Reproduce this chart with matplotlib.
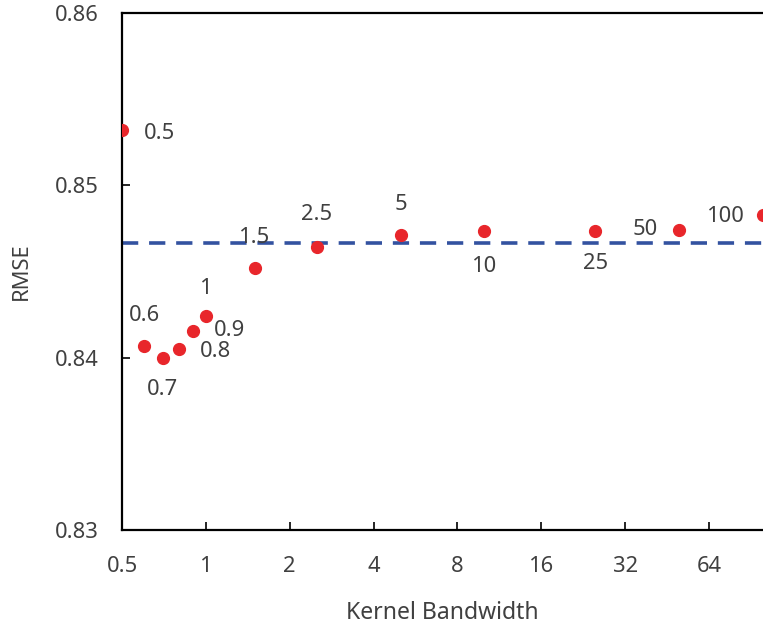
"""RMSE against kernel bandwidth."""

import matplotlib.pyplot as plt
from matplotlib.ticker import FixedLocator, NullLocator

bandwidths = [0.5, 0.6, 0.7, 0.8, 0.9, 1, 1.5, 2.5, 5, 10, 25, 50, 100]
rmse = [0.8532, 0.8407, 0.8400, 0.8405, 0.84155, 0.84242, 0.84519,
        0.84645, 0.84713, 0.84733, 0.84738, 0.84742, 0.84826]
point_labels = ["0.5", "0.6", "0.7", "0.8", "0.9", "1", "1.5",
                "2.5", "5", "10", "25", "50", "100"]
baseline = 0.84665
xticks = [0.5, 1, 2, 4, 8, 16, 32, 64]
yticks = [0.83, 0.84, 0.85, 0.86]

# label placement: (dx, dy) in points, horizontal alignment
label_pos = {
    "0.5": (16, -2, "left"),
    "0.6": (0, 22, "center"),
    "0.7": (0, -23, "center"),
    "0.8": (15, -2, "left"),
    "0.9": (15, 0, "left"),
    "1": (0, 20, "center"),
    "1.5": (0, 22, "center"),
    "2.5": (0, 23, "center"),
    "5": (0, 22, "center"),
    "10": (0, -25, "center"),
    "25": (0, -24, "center"),
    "50": (-15, 0, "right"),
    "100": (-13, -1, "right"),
}

text_color = "#404040"
fsize = 15.8
plt.rcParams["font.family"] = ["Noto Sans", "DejaVu Sans"]

fig = plt.figure(figsize=(7.63, 6.30), dpi=100)
ax = fig.add_axes([0.1599, 0.1587, 0.8401, 0.8206])

ax.set_xscale("log", base=2)
ax.set_xlim(0.5, 100)
ax.set_ylim(0.83, 0.86)

ax.axhline(baseline, color="#3352a0", linewidth=2.6, linestyle=(0, (4.5, 3)), zorder=1)
ax.plot(bandwidths, rmse, linestyle="none", marker="o", markersize=8.5,
        color="#e8262b", zorder=3)

for x, y, lab in zip(bandwidths, rmse, point_labels):
    dx, dy, ha = label_pos[lab]
    ax.annotate(lab, (x, y), xytext=(dx, dy), textcoords="offset points",
                ha=ha, va="center", fontsize=fsize, color=text_color)

ax.xaxis.set_major_locator(FixedLocator(xticks))
ax.xaxis.set_minor_locator(NullLocator())
ax.set_xticklabels([f"{t:g}" for t in xticks])
ax.set_yticks(yticks)
ax.set_yticklabels([f"{t:.2f}" for t in yticks])

ax.tick_params(axis="both", direction="in", length=6, width=1.2,
               labelsize=fsize, labelcolor=text_color)
ax.tick_params(axis="x", pad=19)
ax.tick_params(axis="y", pad=16.5)

ax.spines["right"].set_visible(False)
for side in ("left", "bottom", "top"):
    ax.spines[side].set_linewidth(1.6)

ax.set_xlabel("Kernel Bandwidth", fontsize=16.5, color=text_color)
ax.set_ylabel("RMSE", fontsize=fsize, color=text_color)
ax.xaxis.set_label_coords(0.5, -0.137)
ax.yaxis.set_label_coords(-0.14, 0.5)

fig.savefig("out.png", dpi=100)
plt.close(fig)
